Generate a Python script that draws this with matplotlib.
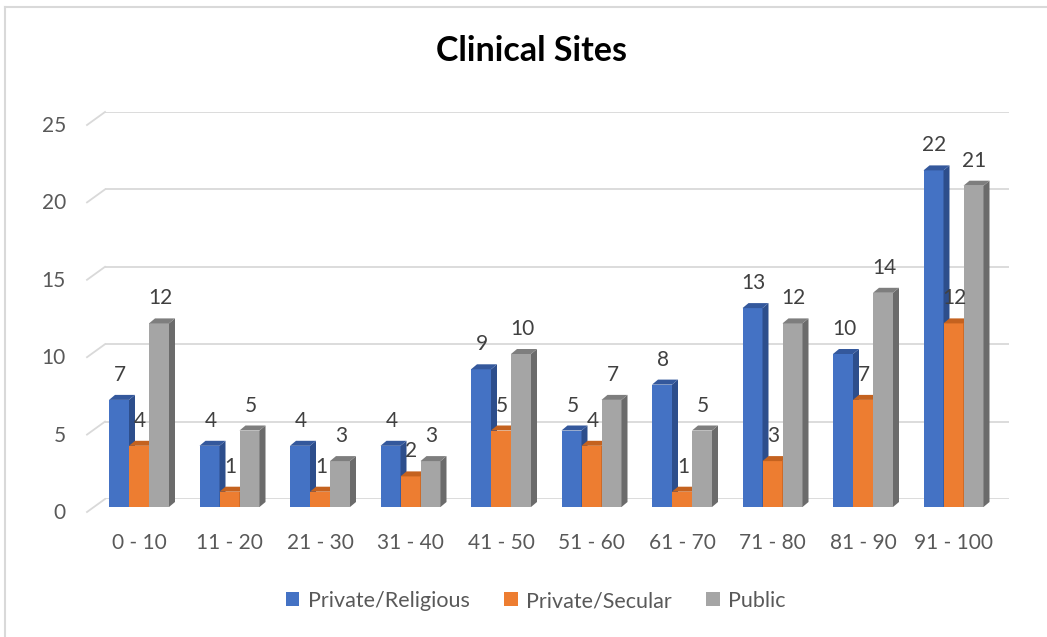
import matplotlib
matplotlib.use("Agg")
import matplotlib.pyplot as plt
from matplotlib.patches import Polygon, Patch
from matplotlib.lines import Line2D
from matplotlib.transforms import offset_copy, IdentityTransform

plt.rcParams['font.family'] = ['Lato', 'DejaVu Sans']

categories = ["0 - 10", "11 - 20", "21 - 30", "31 - 40", "41 - 50",
              "51 - 60", "61 - 70", "71 - 80", "81 - 90", "91 - 100"]
religious = [7, 4, 4, 4, 9, 5, 8, 13, 10, 22]
secular = [4, 1, 1, 2, 5, 4, 1, 3, 7, 12]
public = [12, 5, 3, 3, 10, 7, 5, 12, 14, 21]
series_names = ["Private/Religious", "Private/Secular", "Public"]
yticks = [0, 5, 10, 15, 20, 25]

front_cols = ["#4472C4", "#ED7D31", "#A5A5A5"]
side_cols = ["#2D4E8C", "#B35A1F", "#6B6B6B"]
top_cols = ["#34589C", "#C4621F", "#7E7E7E"]

W, H = 1047, 637
fig = plt.figure(figsize=(W / 100, H / 100), dpi=100)

def fx(px):
    return px / W

def fy(py_top):
    return (H - py_top) / H

# grid (back wall) axes
gx0, gx1, gy0, gy1 = 105, 1009, 499, 112
axg = fig.add_axes([fx(gx0), fy(gy0), fx(gx1 - gx0), fy(gy1) - fy(gy0)])
axg.set_xlim(0, 1)
axg.set_ylim(0, 25)
axg.axis('off')
gridc = "#D9D9D9"
for v in yticks:
    axg.axhline(v, color=gridc, lw=1.3, zorder=0)
fig.canvas.draw()
for v in yticks:
    px, py = axg.transData.transform((0, v))
    fig.add_artist(Line2D([px, px - 18], [py, py - 13], transform=IdentityTransform(),
                          color=gridc, lw=1.3))
    tr = offset_copy(axg.transData, fig=fig, x=-39, y=-14, units='dots')
    axg.text(0, v, str(v), transform=tr, ha='right', va='center',
             fontsize=15, color="#595959", clip_on=False)

# bars axes
bx0, bx1 = 90, 1010
c0, pitch = 139, 90.5
ax = fig.add_axes([fx(bx0), fy(507), fx(bx1 - bx0), fy(507 - 25 * 15.3) - fy(507)])
ax.set_xlim(-(c0 - bx0) / pitch, 9 + (bx1 - (c0 + 9 * pitch)) / pitch)
ax.set_ylim(0, 25)
ax.patch.set_alpha(0)
for s in ax.spines.values():
    s.set_visible(False)
ax.set_yticks([])
ax.tick_params(axis='x', length=0, pad=19, labelsize=15, labelcolor="#595959")
ax.set_xticks(range(len(categories)))
ax.set_xticklabels(categories)

bw = 20 / pitch
dx = 6 / pitch
dy = 5 / 15.3
series = [religious, secular, public]
for i in range(len(categories)):
    for k, vals in enumerate(series):
        h = vals[i]
        x0 = i - 1.5 * bw + k * bw
        x1 = x0 + bw
        z = 2 + k
        ax.bar(x0, h, width=bw, align='edge', color=front_cols[k], zorder=z, lw=0)
        ax.add_patch(Polygon([(x1, 0), (x1, h), (x1 + dx, h + dy), (x1 + dx, dy)],
                             closed=True, fc=side_cols[k], lw=0, zorder=z))
        ax.add_patch(Polygon([(x0, h), (x1, h), (x1 + dx, h + dy), (x0 + dx, h + dy)],
                             closed=True, fc=top_cols[k], lw=0, zorder=z))
        tr = offset_copy(ax.transData, fig=fig, x=1, y=25, units='dots')
        ax.text((x0 + x1) / 2, h, str(h), transform=tr, ha='center', va='center',
                fontsize=15, color="#404040", zorder=10, clip_on=False)

fig.text(fx(532), fy(51), "Clinical Sites", ha='center', va='center',
         fontsize=24.5, fontweight='bold', color='black')

handles = [Patch(facecolor=c, edgecolor='none') for c in front_cols]
fig.legend(handles, series_names, loc='center', bbox_to_anchor=(fx(536), fy(601)),
           ncol=3, frameon=False, fontsize=15.5, labelcolor="#595959",
           handlelength=0.62, handleheight=0.62, handletextpad=0.4, columnspacing=1.6)

# chart border
fig.add_artist(Line2D([fx(4.5), 1], [fy(6.5), fy(6.5)], transform=fig.transFigure,
                      color=gridc, lw=1.5))
fig.add_artist(Line2D([fx(4.5), fx(4.5)], [fy(6.5), 0], transform=fig.transFigure,
                      color=gridc, lw=1.5))

fig.savefig("out.png", dpi=100)
